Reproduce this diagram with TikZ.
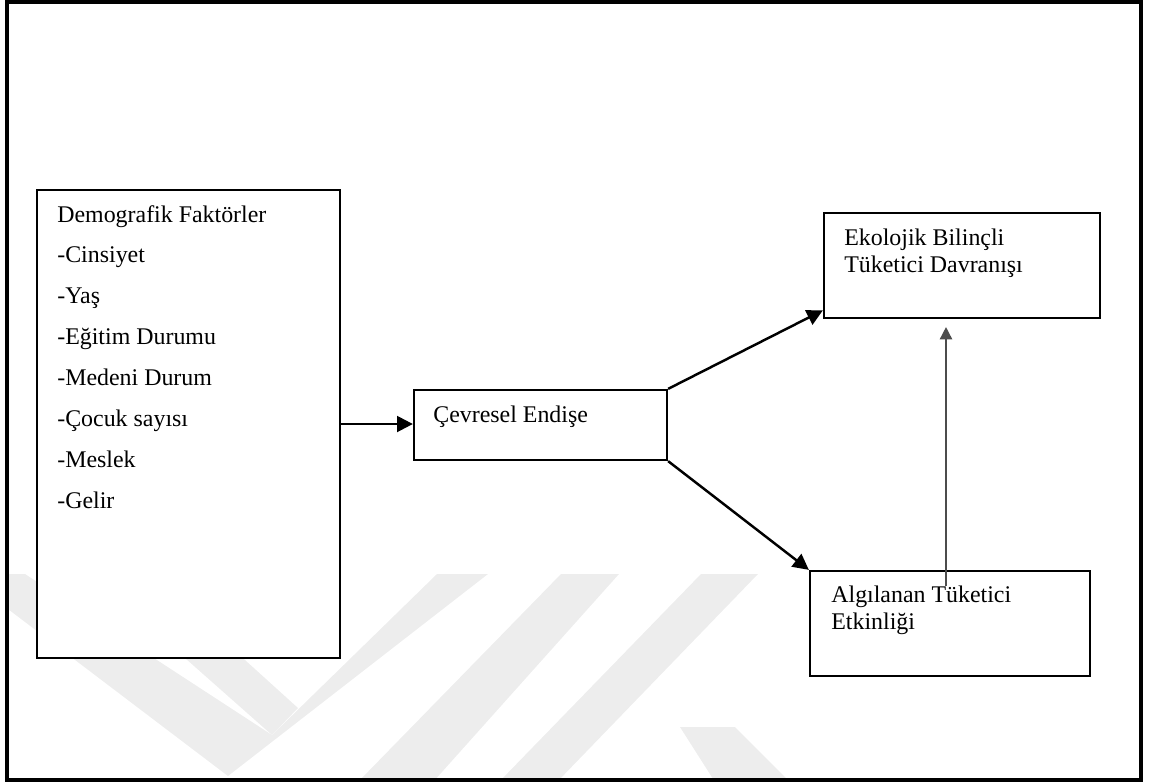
\documentclass[tikz,border=0pt]{standalone}
\usepackage{fontspec}
\setmainfont{Liberation Serif}
\usetikzlibrary{arrows.meta,fit}
\begin{document}
\begin{tikzpicture}[x=0.02cm,y=-0.02cm,
  box/.style={draw=black,line width=1.3pt,fill=white,inner sep=0pt,rectangle},
  txt/.style={inner sep=0pt,anchor=base west,font=\fontsize{13.6}{15.6}\selectfont},
  arr/.style={line width=1.4pt,-{Triangle[length=9pt,width=9pt]}},
  arrthin/.style={line width=0.9pt,draw=black!70,-{Triangle[length=7pt,width=7pt]}},
  wm/.style={fill=black!7,draw=none}]
\useasboundingbox (0,0) rectangle (1150,782);
% watermark
\begin{scope}
  \clip (7,2) rectangle (1141,780);
  % lower left stripe and right arm (V)
  \fill[wm] (0,574) -- (25,574) -- (272,735) -- (437,574) -- (488,574) -- (228,776) -- (0,603) -- cycle;
  % inner left stripe
  \fill[wm] (90,574) -- (150,574) -- (298,708) -- (272,735) -- cycle;
  % parallel stripes
  \fill[wm] (561,574) -- (619,574) -- (433,782) -- (358,782) -- cycle;
  \fill[wm] (701,574) -- (758,574) -- (557,782) -- (499,782) -- cycle;
  \fill[wm] (680,727) -- (735,727) -- (790,782) -- (715,782) -- cycle;
\end{scope}
% frame
\node[draw=black,line width=1.8pt,inner sep=0pt,fit={(7,2) (1141,780)}] (frame) {};
% boxes
\node[box,fit={(37,190) (340,658)}] (demo) {};
\node[box,fit={(414,390) (667,460)}] (cev) {};
\node[box,fit={(824,213) (1100,318)}] (eko) {};
\node[box,fit={(810,571) (1090,676)}] (alg) {};
% texts
\node[txt] (demotxt) at (57,222) {\begin{minipage}[t]{6cm}\fontsize{13.6}{23.3}\selectfont Demografik Faktörler\\-Cinsiyet\\-Yaş\\-Eğitim Durumu\\-Medeni Durum\\-Çocuk sayısı\\-Meslek\\-Gelir\end{minipage}};
\node[txt] (cevtxt) at (433,422) {Çevresel Endişe};
\node[txt] (ekotxt) at (844,245) {\begin{minipage}[t]{5cm}\fontsize{13.6}{15.4}\selectfont Ekolojik Bilinçli\\Tüketici Davranışı\end{minipage}};
\node[txt] (algtxt) at (831,602) {\begin{minipage}[t]{5cm}\fontsize{13.6}{15.9}\selectfont Algılanan Tüketici\\Etkinliği\end{minipage}};
% connectors
\draw[arr] (demo.east) -- (demo.east -| cev.west);
\draw[arr] (cev.north east) -- ([yshift=5pt]eko.south west);
\draw[arr] (cev.south east) -- (alg.north west);
\coordinate (vs) at (946,586);
\draw[arrthin,shorten >=4.5pt] (vs) -- (vs |- eko.south);
\end{tikzpicture}
\end{document}
